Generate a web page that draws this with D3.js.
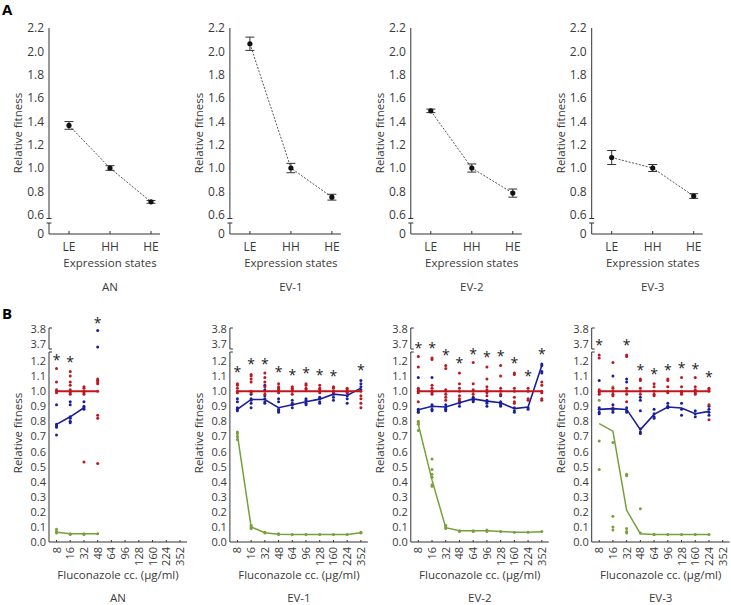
<!DOCTYPE html>
<html>
<head>
<meta charset="utf-8">
<script src="https://cdn.jsdelivr.net/npm/d3@7"></script>
<style>
body { margin: 0; background: #fff; }
text { font-family: "Open Sans", sans-serif; fill: #3a3a3a; }
</style>
</head>
<body>
<div id="chart"></div>
<script>

// ---- data ----
var panels = ["AN", "EV-1", "EV-2", "EV-3"];

// panel A: relative fitness per expression state
var states = ["LE", "HH", "HE"];
var stateMean = [[1.365, 1.0, 0.71], [2.065, 1.0, 0.75], [1.49, 1.0, 0.785], [1.09, 1.0, 0.76]];
var stateErr = [[0.033, 0.02, 0.012], [0.057, 0.04, 0.025], [0.015, 0.035, 0.035], [0.06, 0.03, 0.02]];
var yTicksA = [0.6, 0.8, 1.0, 1.2, 1.4, 1.6, 1.8, 2.0, 2.2];

// panel B: relative fitness per fluconazole concentration
var concs = ["8", "16", "32", "48", "64", "96", "128", "160", "224", "352"];
var yTicksLow = [0, 0.1, 0.2, 0.3, 0.4, 0.5, 0.6, 0.7, 0.8, 0.9, 1.0, 1.1, 1.2];
var yTicksHigh = [3.7, 3.8];

var redPts = [
  [[1.15, 1.06, 1.01, 1.0, 0.99], [1.13, 1.10, 1.06, 1.04, 1.01, 1.0, 0.99, 0.98], [1.03, 1.02, 1.0, 0.99, 0.98, 0.53], [1.08, 1.07, 1.06, 1.05, 1.0, 0.84, 0.82, 0.52], [], [], [], [], [], []],
  [[1.05, 1.04, 1.02, 1.0, 0.99], [1.11, 1.10, 1.08, 1.06, 1.0, 0.99], [1.12, 1.09, 1.06, 1.03, 1.0, 0.98], [1.05, 1.03, 1.02, 1.01, 0.99], [1.03, 1.02, 1.01, 1.0, 0.98], [1.05, 1.04, 1.02, 1.01], [1.04, 1.02, 1.01, 0.99], [1.03, 1.02, 1.0, 0.99], [1.02, 1.01, 0.99], [1.0, 0.97, 0.95, 0.92, 0.89]],
  [[1.23, 1.16, 1.02, 1.01, 1.0, 0.99, 0.93], [1.22, 1.21, 1.04, 1.02, 1.0, 0.99, 0.98], [1.17, 1.15, 1.01, 1.0, 0.98, 0.96, 0.94], [1.12, 1.05, 1.02, 1.0, 0.97, 0.95, 0.94], [1.19, 1.05, 1.01, 1.0, 0.98], [1.16, 1.08, 1.03, 1.01, 0.99, 0.97], [1.17, 1.10, 1.02, 1.0, 0.98], [1.12, 1.11, 1.02, 1.0, 0.96, 0.93, 0.92], [1.02, 1.0, 0.95, 0.94], [1.06, 1.04, 1.0, 0.99, 0.95, 0.94]],
  [[1.24, 1.22, 1.01, 1.0, 0.99, 0.98], [1.19, 1.02, 1.0, 0.98, 0.97, 0.89], [1.24, 1.23, 1.02, 1.0, 0.98, 0.93], [1.08, 1.07, 1.02, 1.0, 0.98], [1.05, 1.03, 1.0, 0.98, 0.97], [1.08, 1.07, 1.03, 1.0, 0.99], [1.09, 1.03, 1.0, 0.99, 0.98], [1.09, 1.03, 1.01, 1.0, 0.99, 0.98], [1.02, 1.01, 1.0, 0.91, 0.81], []]
];
var bluePts = [
  [[0.91, 0.78, 0.77, 0.76, 0.71], [0.93, 0.91, 0.83, 0.82, 0.80, 0.79], [0.93, 0.90, 0.89, 0.88], [3.79, 3.68], [], [], [], [], [], []],
  [[0.95, 0.93, 0.89, 0.88, 0.87], [0.98, 0.95, 0.94, 0.92, 0.89], [1.04, 1.01, 0.97, 0.95, 0.93, 0.92], [0.95, 0.93, 0.88, 0.87, 0.86], [0.94, 0.92, 0.91, 0.89], [0.95, 0.94, 0.92, 0.91], [0.96, 0.95, 0.93, 0.92], [1.0, 0.98, 0.96, 0.94], [0.99, 0.97, 0.95, 0.92], [1.07, 1.05, 1.03, 1.01]],
  [[1.09, 0.88, 0.87, 0.86], [1.09, 0.91, 0.90, 0.88, 0.87], [0.91, 0.89, 0.88, 0.87], [0.93, 0.92, 0.90], [0.96, 0.95, 0.94, 0.93], [0.94, 0.93, 0.92, 0.90], [0.97, 0.93, 0.92, 0.91, 0.90], [0.89, 0.87, 0.86], [0.89, 0.88], [1.18, 1.17, 1.13, 1.12]],
  [[1.07, 0.89, 0.88, 0.86, 0.85], [1.10, 0.91, 0.88, 0.86], [1.08, 1.06, 0.89, 0.87, 0.86], [0.96, 0.94, 0.87, 0.75, 0.73, 0.72], [0.88, 0.85, 0.83, 0.82], [0.92, 0.90, 0.89], [0.92, 0.88, 0.84], [0.87, 0.85, 0.83], [0.90, 0.88, 0.86, 0.84], []]
];
var greenPts = [
  [[0.085, 0.07, 0.06], [0.055, 0.05], [0.055, 0.05], [0.055], [], [], [], [], [], []],
  [[0.73, 0.72, 0.70, 0.68], [0.11, 0.10, 0.09], [0.065, 0.06], [0.055, 0.05], [0.05], [0.05], [0.05], [0.05], [0.05], [0.065, 0.06]],
  [[0.86, 0.80, 0.79, 0.78, 0.74], [0.55, 0.48, 0.45, 0.43, 0.38, 0.37], [0.11, 0.10, 0.09], [0.075, 0.07], [0.075, 0.07], [0.08, 0.07], [0.07], [0.065], [0.065], [0.07]],
  [[0.94, 0.67, 0.48], [1.03, 1.0, 0.87, 0.66, 0.17, 0.10, 0.08], [0.45, 0.44, 0.09, 0.07, 0.06], [0.22, 0.06], [0.05, 0.05], [0.05], [0.05], [0.05], [0.05], []]
];

var redLine = [
  [1, 1, 1, 1, null, null, null, null, null, null],
  [1, 1, 1, 1, 1, 1, 1, 1, 1, 1],
  [1, 1, 1, 1, 1, 1, 1, 1, 1, 1],
  [1, 1, 1, 1, 1, 1, 1, 1, 1, null]
];
var blueLine = [
  [0.78, 0.83, 0.89, null, null, null, null, null, null, null],
  [0.88, 0.945, 0.945, 0.89, 0.91, 0.93, 0.947, 0.98, 0.971, 1.02],
  [0.877, 0.90, 0.895, 0.923, 0.949, 0.934, 0.923, 0.884, 0.895, 1.17],
  [0.879, 0.884, 0.879, 0.745, 0.846, 0.895, 0.888, 0.85, 0.866, null]
];
var greenLine = [
  [0.065, 0.055, 0.055, 0.055, null, null, null, null, null, null],
  [0.71, 0.10, 0.062, 0.052, 0.05, 0.05, 0.05, 0.05, 0.05, 0.062],
  [0.78, 0.41, 0.095, 0.075, 0.075, 0.075, 0.07, 0.065, 0.065, 0.068],
  [0.785, 0.735, 0.21, 0.055, 0.05, 0.05, 0.05, 0.05, 0.05, null]
];
// asterisk heights (on the lower fitness scale)
var stars = [
  [1.229, 1.213, null, 1.472, null, null, null, null, null, null],
  [1.147, 1.202, 1.202, 1.147, 1.129, 1.14, 1.125, 1.119, null, 1.163],
  [1.306, 1.306, 1.258, 1.207, 1.269, 1.247, 1.255, 1.207, 1.119, 1.269],
  [1.328, null, 1.328, 1.163, 1.136, 1.163, 1.176, 1.17, 1.114, null]
];

// ---- drawing ----
var width = 731, height = 605;
var ink = "#333";
var colRed = "#c0161f", colBlue = "#1a1f9c", colGreen = "#76a03a";

var svg = d3.select("#chart")
    .append("svg")
    .attr("width", width)
    .attr("height", height);

var axis0 = 49, panelStep = 180.9;

svg.append("text").attr("x", 2).attr("y", 15).text("A")
    .style("font-weight", "bold").style("font-size", "15px").style("fill", "#000");
svg.append("text").attr("x", 2).attr("y", 319).text("B")
    .style("font-weight", "bold").style("font-size", "15px").style("fill", "#000");

function seg(g, x1, y1, x2, y2) {
    g.append("line").attr("x1", x1).attr("y1", y1).attr("x2", x2).attr("y2", y2)
        .attr("stroke", ink).attr("stroke-width", 1);
}

// panel A
panels.forEach(function (name, i) {
    var ox = axis0 + i * panelStep;
    var g = svg.append("g");

    var x = d3.scalePoint().domain(states).range([ox + 20, ox + 102]);
    var y = d3.scaleLinear().domain([0.6, 2.2]).range([214.7, 28]);
    var yBase = 234;

    g.append("g")
        .attr("transform", "translate(" + ox + ",0)")
        .call(d3.axisLeft(y).tickValues(yTicksA).tickFormat(d3.format(".1f")).tickSize(0).tickPadding(5))
        .attr("font-size", 12)
        .call(function (a) { a.select(".domain").remove(); });
    g.append("text").attr("x", ox - 5).attr("y", yBase + 4).attr("text-anchor", "end")
        .style("font-size", "12px").text("0");

    // broken y axis
    seg(g, ox, y(2.2), ox, 218.5);
    seg(g, ox - 2.5, 218.5, ox + 2.5, 218.5);
    seg(g, ox - 2.5, 223, ox + 2.5, 223);
    seg(g, ox, 223, ox, yBase);
    // x axis
    seg(g, ox, yBase, ox + 111, yBase);
    states.forEach(function (s) {
        seg(g, x(s), yBase, x(s), yBase - 3);
        g.append("text").attr("x", x(s)).attr("y", yBase + 17).attr("text-anchor", "middle")
            .style("font-size", "12px").text(s);
    });

    var pts = states.map(function (s, k) {
        return {s: s, m: stateMean[i][k], e: stateErr[i][k]};
    });

    g.append("path")
        .datum(pts)
        .attr("fill", "none")
        .attr("stroke", "#555")
        .attr("stroke-width", 1)
        .attr("stroke-dasharray", "2,1.5")
        .attr("d", d3.line()
            .x(function (d) { return x(d.s); })
            .y(function (d) { return y(d.m); }));

    pts.forEach(function (d) {
        var cx = x(d.s);
        seg(g, cx, y(d.m - d.e), cx, y(d.m + d.e));
        seg(g, cx - 4.5, y(d.m - d.e), cx + 4.5, y(d.m - d.e));
        seg(g, cx - 4.5, y(d.m + d.e), cx + 4.5, y(d.m + d.e));
        g.append("circle").attr("cx", cx).attr("cy", y(d.m)).attr("r", 2.6).attr("fill", "#111");
    });

    g.append("text")
        .attr("transform", "translate(" + (ox - 27) + ",133) rotate(-90)")
        .attr("text-anchor", "middle").style("font-size", "11.5px").text("Relative fitness");
    g.append("text").attr("x", ox + 61).attr("y", 267).attr("text-anchor", "middle")
        .style("font-size", "11.5px").text("Expression states");
    g.append("text").attr("x", ox + 61).attr("y", 291).attr("text-anchor", "middle")
        .style("font-size", "11.5px").text(name);
});

// panel B
panels.forEach(function (name, i) {
    var ox = axis0 + i * panelStep;
    var g = svg.append("g");

    var x = d3.scalePoint().domain(concs).range([ox + 7.5, ox + 131]);
    var yL = d3.scaleLinear().domain([0, 1.2]).range([542, 361]);
    var yU = d3.scaleLinear().domain([3.7, 3.8]).range([344, 329]);
    function yv(v) { return v > 2 ? yU(v) : yL(v); }

    g.append("g")
        .attr("transform", "translate(" + ox + ",0)")
        .call(d3.axisLeft(yL).tickValues(yTicksLow).tickFormat(d3.format(".1f")).tickSize(0).tickPadding(3))
        .attr("font-size", 11)
        .call(function (a) { a.select(".domain").remove(); });
    g.append("g")
        .attr("transform", "translate(" + ox + ",0)")
        .call(d3.axisLeft(yU).tickValues(yTicksHigh).tickFormat(d3.format(".1f")).tickSize(0).tickPadding(3))
        .attr("font-size", 11)
        .call(function (a) { a.select(".domain").remove(); });

    // broken y axis
    seg(g, ox, 328, ox, 349);
    seg(g, ox, 328, ox + 3, 328);
    seg(g, ox, 349, ox + 3, 349);
    seg(g, ox, 352, ox, 542);
    seg(g, ox, 352, ox + 3, 352);
    // x axis
    seg(g, ox, 542, ox + 138, 542);
    concs.forEach(function (c) {
        seg(g, x(c), 542, x(c), 540);
        g.append("text")
            .attr("transform", "translate(" + (x(c) + 4) + ",547) rotate(-90)")
            .attr("text-anchor", "end").style("font-size", "11px").text(c);
    });

    var series = [
        {pts: greenPts[i], line: greenLine[i], col: colGreen, w: 1.5},
        {pts: bluePts[i], line: blueLine[i], col: colBlue, w: 1.6},
        {pts: redPts[i], line: redLine[i], col: colRed, w: 2}
    ];

    series.forEach(function (s) {
        s.pts.forEach(function (vals, j) {
            vals.forEach(function (v) {
                g.append("circle")
                    .attr("cx", x(concs[j]))
                    .attr("cy", yv(v))
                    .attr("r", 1.5)
                    .attr("fill", s.col);
            });
        });
    });
    series.forEach(function (s) {
        g.append("path")
            .datum(s.line.map(function (v, j) { return {c: concs[j], v: v}; }))
            .attr("fill", "none")
            .attr("stroke", s.col)
            .attr("stroke-width", s.w)
            .attr("d", d3.line()
                .defined(function (d) { return d.v !== null; })
                .x(function (d) { return x(d.c); })
                .y(function (d) { return yL(d.v); }));
    });

    stars[i].forEach(function (v, j) {
        if (v === null) return;
        g.append("text")
            .attr("x", x(concs[j]))
            .attr("y", yL(v) + 8)
            .attr("text-anchor", "middle")
            .style("font-size", "14px")
            .style("fill", "#222")
            .text("*");
    });

    g.append("text")
        .attr("transform", "translate(" + (ox - 27) + ",433) rotate(-90)")
        .attr("text-anchor", "middle").style("font-size", "11.5px").text("Relative fitness");
    g.append("text").attr("x", ox + 69).attr("y", 579).attr("text-anchor", "middle")
        .style("font-size", "11.5px").text("Fluconazole cc. (\u00b5g/ml)");
    g.append("text").attr("x", ox + 69).attr("y", 602).attr("text-anchor", "middle")
        .style("font-size", "11.5px").text(name);
});

</script>
</body>
</html>
